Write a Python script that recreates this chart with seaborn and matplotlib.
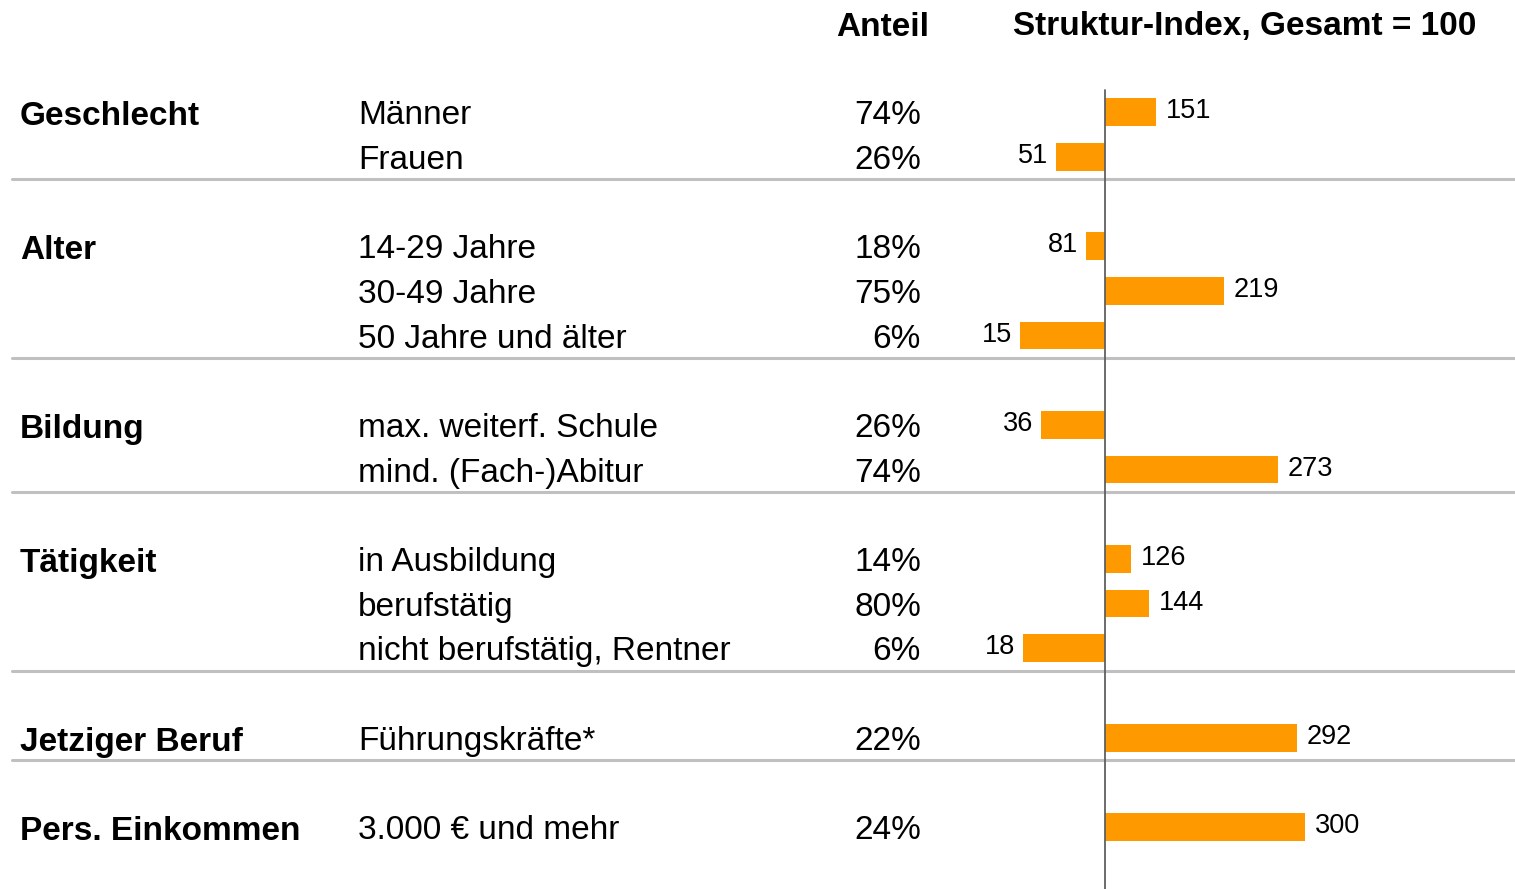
import numpy as np
import pandas as pd
import matplotlib
matplotlib.use("Agg")
import matplotlib.pyplot as plt
import matplotlib.transforms as mtransforms
import seaborn as sns

## DATEN
groups = ["Geschlecht", "Alter", "Bildung", "Tätigkeit", "Jetziger Beruf", "Pers. Einkommen"]
group_items = [
    ["Männer", "Frauen"],
    ["14-29 Jahre", "30-49 Jahre", "50 Jahre und älter"],
    ["max. weiterf. Schule", "mind. (Fach-)Abitur"],
    ["in Ausbildung", "berufstätig", "nicht berufstätig, Rentner"],
    ["Führungskräfte*"],
    ["3.000 € und mehr"],
]
anteil = [74, 26, 18, 75, 6, 26, 74, 14, 80, 6, 22, 24]
index_werte = [151, 51, 81, 219, 15, 36, 273, 126, 144, 18, 292, 300]
BASIS = 100

## LAYOUT (Pixel der Vorlage)
W, H = 1515, 889
ROW0_PX = 112
SLOT_PX = 44.69
BASE_PX = 1105

# Zeilen-Slots: eine Leerzeile zwischen den Gruppen
slots, labels, grp_first, seps = [], [], [], []
s = 0
for g, items in zip(groups, group_items):
    grp_first.append(s)
    for it in items:
        slots.append(s)
        labels.append(it)
        s += 1
    seps.append(s - 0.5)
    s += 1
seps = seps[:-1]

df = pd.DataFrame({
    "slot": slots,
    "label": labels,
    "anteil": anteil,
    "index": index_werte,
})
df["dev"] = df["index"] - BASIS

sns.set_theme(style="white")
plt.rcParams["font.family"] = ["Liberation Sans", "DejaVu Sans"]
plt.rcParams["text.color"] = "black"

fig = plt.figure(figsize=(W / 100, H / 100), dpi=100)
ax = fig.add_axes([0, 0, 1, 1])

sns.barplot(data=df, x="dev", y="slot", orient="h", native_scale=True,
            width=0.62, color="#FF9900", saturation=1, ax=ax, errorbar=None,
            linewidth=0)

ax.set_xlim(-BASE_PX, W - BASE_PX)
y_top = -ROW0_PX / SLOT_PX
ax.set_ylim(y_top + H / SLOT_PX, y_top)
ax.axis("off")

def px2y(py):
    return y_top + py / SLOT_PX

# Trennlinien und Basislinie
for y in seps:
    ax.axhline(y, xmin=12 / W, xmax=1, color="#C0C0C0", lw=2.2, zorder=1)
ax.axvline(0, ymin=0, ymax=1 - 90 / H, color="#606060", lw=1.3, zorder=3)

tr = mtransforms.blended_transform_factory(ax.transAxes, ax.transData)
FS = 24
FS_VAL = 19.5

# Kopfzeile
ax.text(883 / W, px2y(27), "Anteil", transform=tr, ha="center", va="center",
        fontsize=FS, fontweight="bold")
ax.text(1245 / W, px2y(27), "Struktur-Index, Gesamt = 100", transform=tr,
        ha="center", va="center", fontsize=FS, fontweight="bold")

for g, y in zip(groups, grp_first):
    ax.text(20 / W, y + 0.1, g, transform=tr, ha="left", va="center",
            fontsize=FS, fontweight="bold")

for _, r in df.iterrows():
    ax.text(358 / W, r["slot"] + 0.08, r["label"], transform=tr, ha="left",
            va="center", fontsize=FS)
    ax.text(921 / W, r["slot"] + 0.08, f"{r['anteil']}%", transform=tr,
            ha="right", va="center", fontsize=FS)
    if r["dev"] >= 0:
        ax.text(r["dev"] + 10, r["slot"] - 0.02, str(r["index"]), ha="left",
                va="center", fontsize=FS_VAL)
    else:
        ax.text(r["dev"] - 8, r["slot"] - 0.02, str(r["index"]), ha="right",
                va="center", fontsize=FS_VAL)

fig.savefig("out.png", dpi=100)
